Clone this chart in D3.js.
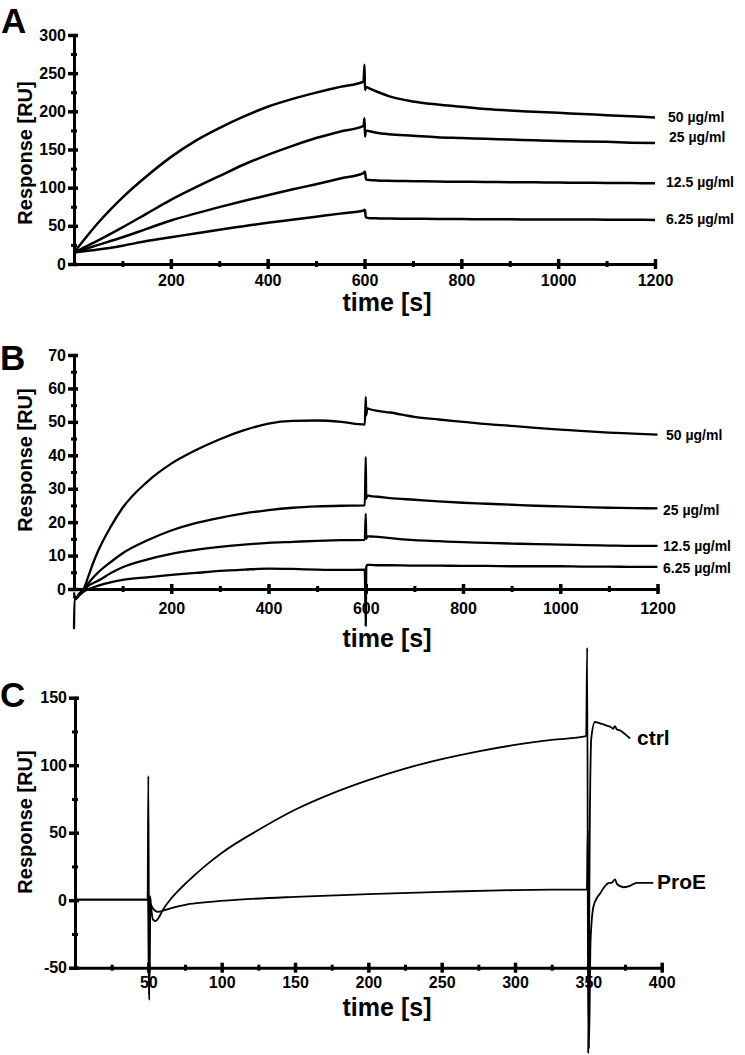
<!DOCTYPE html>
<html>
<head>
<meta charset="utf-8">
<script src="https://cdn.jsdelivr.net/npm/d3@7"></script>
<style>
  html, body { margin: 0; padding: 0; background: #fff; }
  svg { display: block; }
  text { font-family: "Liberation Sans", Arial, Helvetica, sans-serif; font-weight: bold; fill: #000; }
</style>
</head>
<body>
<svg id="chart" width="745" height="1055"></svg>
<script>
// ---------------- DATA ----------------
// Panel A
const aTime = [0, 25, 50, 100, 150, 200, 250, 300, 350, 400, 450, 500, 550, 598, 600, 601, 603, 610, 625, 650, 700, 750, 800, 850, 900, 950, 1000, 1050, 1100, 1150, 1200];
const a50   = [15, 35, 54, 87, 115, 140, 161, 178, 193, 206, 216, 224.5, 232, 239, 261, 228, 232, 230, 226, 220, 213, 209, 206, 203, 201, 199.5, 198, 196.5, 195, 193.5, 192];
const a25   = [15, 23, 31, 48, 66, 84, 100, 115, 130, 143, 154.5, 165, 173.5, 181, 191, 167, 175, 174, 172, 170, 168, 166, 165, 164, 163, 162, 161, 160.5, 160, 159, 158.5];
const a12   = [15, 20, 25, 35, 46, 57, 66, 74.5, 82.5, 90, 97.5, 104.5, 112, 119, 121, 121, 111, 110, 109.5, 109, 108.5, 108, 107.8, 107.5, 107.2, 107, 106.7, 106.4, 106.2, 106, 105.8];
const a6    = [15, 17, 19, 24, 30, 35, 40, 45, 49.5, 54, 58, 62, 66, 70, 71, 70, 61, 60, 59.8, 59.5, 59.3, 59, 58.8, 58.7, 58.5, 58.4, 58.3, 58.2, 58.1, 58, 57.8];
const aLabels = ["50 µg/ml", "25 µg/ml", "12.5 µg/ml", "6.25 µg/ml"];
const aYTicks = [0, 50, 100, 150, 200, 250, 300];
const aYMinor = [25, 75, 125, 175, 225, 275];
const aXTicks = [200, 400, 600, 800, 1000, 1200];
const aXMinor = [100, 300, 500, 700, 900, 1100];

// Panel B
const bTime = [0, 1, 3, 10, 20, 30, 40, 50, 75, 100, 150, 200, 250, 300, 350, 400, 450, 500, 550, 598, 600, 601, 603, 610, 625, 650, 700, 750, 800, 850, 900, 950, 1000, 1050, 1100, 1150, 1200];
const b50 = [-1, -2, -3, -2, 0, 4, 8, 11.5, 18.5, 24.3, 32, 37.5, 41.5, 44.8, 47.5, 49.5, 50.3, 50.4, 50, 49.2, 57.5, 52, 54, 53.7, 53.3, 52.8, 51.5, 50.7, 50, 49.3, 48.8, 48.2, 47.7, 47.2, 46.8, 46.5, 46.2];
const b25 = [-2, -2.5, -3, -1.5, 0, 1.8, 3.5, 5, 8, 10.7, 14.5, 17.5, 19.7, 21.3, 22.6, 23.6, 24.3, 24.7, 24.9, 25, 39.5, 27, 28, 27.8, 27.6, 27.2, 26.7, 26.2, 25.8, 25.5, 25.2, 24.9, 24.7, 24.5, 24.3, 24.2, 24.1];
const b12 = [-2, -2.5, -3, -1.8, -0.3, 1, 1.8, 2.5, 4.7, 6.5, 8.8, 10.5, 11.7, 12.6, 13.3, 13.8, 14.1, 14.4, 14.6, 14.7, 22.5, 15, 15.8, 15.7, 15.6, 15.2, 14.6, 14.3, 14, 13.8, 13.6, 13.4, 13.3, 13.1, 13, 12.9, 12.9];
const b6  = [-12, -3, -3, -2, -0.8, 0, 0.5, 1, 2, 2.7, 3.5, 4.2, 4.8, 5.4, 5.8, 6.1, 6.0, 5.8, 5.7, 5.8, -11, 6.5, 7.2, 7.2, 7.1, 7.1, 7.0, 7.0, 6.9, 6.9, 6.8, 6.8, 6.8, 6.7, 6.7, 6.6, 6.6];
const bLabels = ["50 µg/ml", "25 µg/ml", "12.5 µg/ml", "6.25 µg/ml"];
const bYTicks = [0, 10, 20, 30, 40, 50, 60, 70];
const bYMinor = [5, 15, 25, 35, 45, 55, 65];
const bXTicks = [200, 400, 600, 800, 1000, 1200];
const bXMinor = [100, 300, 500, 700, 900, 1100];

// Panel C
const cTimeCtrl = [0, 48, 49.5, 50, 50.6, 51.2, 52, 53, 55, 57, 60, 65, 70, 75, 80, 90, 100, 125, 150, 175, 200, 225, 250, 275, 300, 325, 348.5, 349.2, 349.9, 351, 352, 354.5, 358, 362, 365, 367, 368, 369.5, 372, 375, 378.4];
const cCtrl     = [0.5, 0.5, 0.3, 92, -74, 3, -6, -14, -15.5, -13, -7, 0.5, 6.5, 12, 17, 26.5, 35, 52, 67, 79, 89, 97.5, 104.5, 110.3, 115, 118.7, 121.5, 187, -113, 60, 120, 132, 131, 129.5, 128.5, 127, 129, 126.5, 125.5, 123, 119.8];
const cTimeProE = [0, 48, 49.8, 50.4, 51.5, 53, 56.5, 60, 65, 76, 90, 112, 150, 200, 250, 300, 325, 349, 349.6, 350.4, 351.5, 353.4, 356, 358, 361, 363.6, 366, 368.2, 369.5, 373.9, 378, 383, 394.3];
const cProE     = [0.5, 0.5, 0.3, -70, -3, -6, -8.6, -7.8, -6, -3.2, -1.5, 0.4, 2.5, 4.5, 6.2, 7.5, 7.8, 7.9, 52, -110, -30, -5, 2, 5, 10, 12.6, 13, 15.5, 12, 9.6, 10.5, 12.8, 12.8];
const cLabels = ["ctrl", "ProE"];
const cYTicks = [-50, 0, 50, 100, 150];
const cYMinor = [-25, 25, 75, 125];
const cXTicks = [50, 100, 150, 200, 250, 300, 350, 400];
const cXMinor = [25, 75, 125, 175, 225, 275, 325, 375];

// ---------------- DRAW ----------------
const svg = d3.select("#chart");
const fmt = d => String(d);

function zip(t, v) { return t.map((d, i) => [d, v[i]]); }

function panel(cfg) {
  const x = d3.scaleLinear().domain(cfg.xDomain).range(cfg.xRange);
  const y = d3.scaleLinear().domain(cfg.yDomain).range(cfg.yRange);
  const g = svg.append("g");
  const x0 = cfg.xRange[0], y0 = cfg.yRange[0];

  // y axis
  const ya = g.append("g").attr("transform", `translate(${x0},0)`)
    .call(d3.axisLeft(y).tickValues(cfg.yTicks).tickFormat(fmt).tickSizeOuter(0).tickSizeInner(6).tickPadding(2));
  ya.select(".domain").attr("stroke", "#000").attr("stroke-width", 3);
  ya.selectAll(".tick line").attr("x1", 4).attr("stroke", "#000").attr("stroke-width", 3.5);
  ya.selectAll(".tick text").attr("font-size", 16).attr("font-family", null).attr("fill", "#000");
  const ym = g.append("g").attr("transform", `translate(${x0},0)`)
    .call(d3.axisLeft(y).tickValues(cfg.yMinor).tickSize(3).tickFormat(""));
  ym.select(".domain").remove();
  ym.selectAll(".tick line").attr("x1", 3).attr("stroke", "#000").attr("stroke-width", 3);

  // x axis
  const xa = g.append("g").attr("transform", `translate(0,${y0})`)
    .call(d3.axisBottom(x).tickValues(cfg.xTicks).tickFormat(fmt).tickSizeOuter(0).tickSizeInner(5).tickPadding(cfg.xPad));
  xa.select(".domain").attr("stroke", "#000").attr("stroke-width", 3);
  xa.selectAll(".tick line").attr("y1", -5).attr("stroke", "#000").attr("stroke-width", 3.5);
  xa.selectAll(".tick text").attr("font-size", 16).attr("font-family", null).attr("fill", "#000");
  const xm = g.append("g").attr("transform", `translate(0,${y0})`)
    .call(d3.axisBottom(x).tickValues(cfg.xMinor).tickSize(3).tickFormat(""));
  xm.select(".domain").remove();
  xm.selectAll(".tick line").attr("y1", -3).attr("stroke", "#000").attr("stroke-width", 3);
  g.selectAll(".domain").attr("stroke-linecap", "square");

  // series
  const line = d3.line().x(d => x(d[0])).y(d => y(d[1])).curve(d3.curveMonotoneX);
  cfg.series.forEach(s => {
    g.append("path").datum(zip(s.t, s.v))
      .attr("d", line).attr("fill", "none").attr("stroke", "#000")
      .attr("stroke-width", cfg.lw).attr("stroke-linejoin", "round");
  });

  // series labels
  cfg.labels.forEach(l => {
    g.append("text").attr("x", l.x).attr("y", l.y).attr("font-size", l.fs).text(l.text);
  });

  // axis titles
  g.append("text").attr("transform", `translate(${cfg.yTitle[0]},${cfg.yTitle[1]}) rotate(-90)`)
    .attr("text-anchor", "middle").attr("font-size", 20).text("Response [RU]");
  g.append("text").attr("x", cfg.xTitle[0]).attr("y", cfg.xTitle[1])
    .attr("text-anchor", "middle").attr("font-size", 25).text("time [s]");
  // panel letter
  g.append("text").attr("x", cfg.letter[1]).attr("y", cfg.letter[2])
    .attr("font-size", 35).text(cfg.letter[0]);
}

panel({
  xDomain: [0, 1200], xRange: [74, 655],
  yDomain: [0, 300], yRange: [264, 35],
  yTicks: aYTicks, yMinor: aYMinor, xTicks: aXTicks, xMinor: aXMinor, xPad: 6,
  lw: 2.5,
  series: [{t: aTime, v: a50}, {t: aTime, v: a25}, {t: aTime, v: a12}, {t: aTime, v: a6}],
  labels: [
    {text: aLabels[0], x: 668, y: 122, fs: 14},
    {text: aLabels[1], x: 669, y: 142, fs: 14},
    {text: aLabels[2], x: 666, y: 187, fs: 14},
    {text: aLabels[3], x: 666, y: 224, fs: 14}
  ],
  yTitle: [32, 153], xTitle: [387, 311], letter: ["A", 1, 33]
});

panel({
  xDomain: [0, 1200], xRange: [74, 657.5],
  yDomain: [0, 70], yRange: [589, 355],
  yTicks: bYTicks, yMinor: bYMinor, xTicks: bXTicks, xMinor: bXMinor, xPad: 9,
  lw: 2.3,
  series: [{t: bTime, v: b50}, {t: bTime, v: b25}, {t: bTime, v: b12}, {t: bTime, v: b6}],
  labels: [
    {text: bLabels[0], x: 666, y: 440, fs: 14},
    {text: bLabels[1], x: 663, y: 515, fs: 14},
    {text: bLabels[2], x: 663, y: 551, fs: 14},
    {text: bLabels[3], x: 663, y: 573, fs: 14}
  ],
  yTitle: [32, 460], xTitle: [387, 647], letter: ["B", 0, 370]
});

panel({
  xDomain: [0, 400], xRange: [75, 661.7],
  yDomain: [-50, 150], yRange: [967.7, 697.7],
  yTicks: cYTicks, yMinor: cYMinor, xTicks: cXTicks, xMinor: cXMinor, xPad: 4,
  lw: 1.8,
  series: [{t: cTimeCtrl, v: cCtrl}, {t: cTimeProE, v: cProE}],
  labels: [
    {text: cLabels[0], x: 637, y: 745, fs: 21},
    {text: cLabels[1], x: 657, y: 889, fs: 21}
  ],
  yTitle: [32, 822], xTitle: [387, 1016], letter: ["C", 0, 707]
});
</script>
</body>
</html>
